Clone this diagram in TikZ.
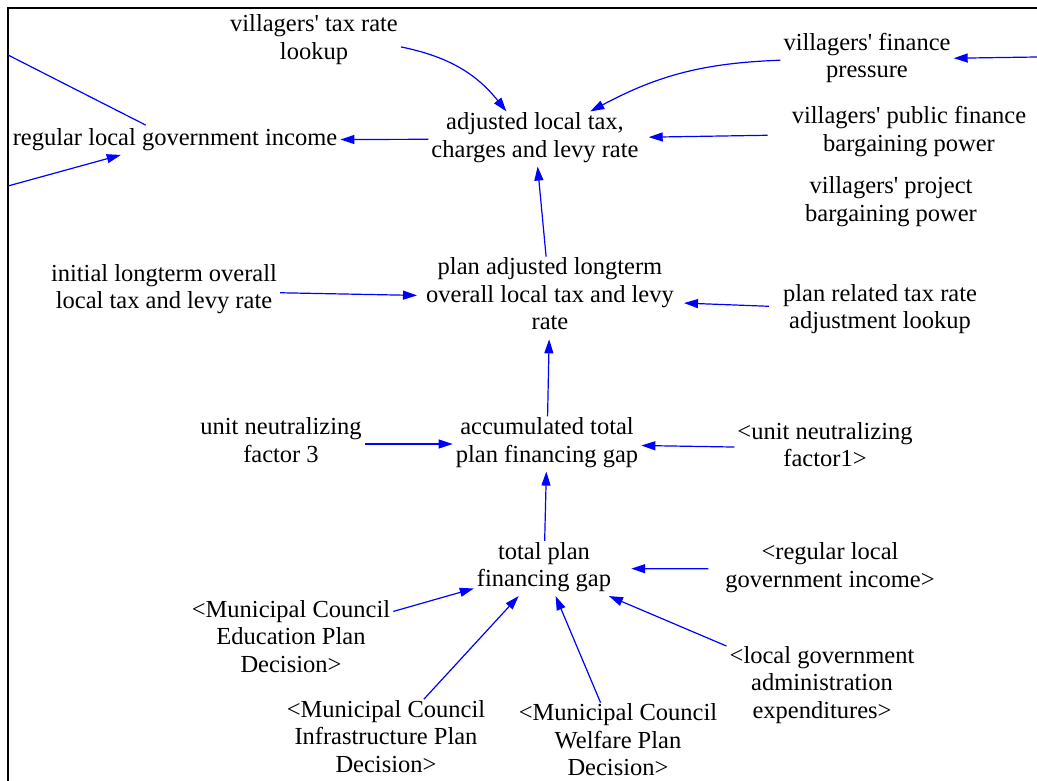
\documentclass[tikz,border=0pt]{standalone}
\usepackage{fontspec}
\setmainfont{Liberation Serif}
\usetikzlibrary{arrows.meta}
\begin{document}
\begin{tikzpicture}[x=1pt,y=-1pt,
  var/.style={align=center, inner xsep=3pt, inner ysep=1pt,
    font=\fontsize{24.5}{27.5}\selectfont,
    execute at begin node=\strut, execute at end node=\strut},
  wire/.style={draw=blue, line width=1.2pt},
  link/.style={wire, -{Triangle[length=14pt,width=9pt]}},
  frame/.style={draw=black, line width=2.2pt}]
\useasboundingbox (0,0) rectangle (1037,781);
\fill[white] (0,0) rectangle (1037,781);
\draw[frame] (8,781) -- (8,8) -- (1037,8);

% variables
\node[var] (taxlookup) at (314,41) {villagers\textquotesingle{} tax rate\\lookup};
\node[var] (regular) at (175,140) {regular local government income};
\node[var] (adjusted) at (535,139) {adjusted local tax,\\charges and levy rate};
\node[var] (pressure) at (867,59.5) {villagers\textquotesingle{} finance\\pressure};
\node[var] (publicfin) at (909,133) {villagers\textquotesingle{} public finance\\bargaining power};
\node[var] (project) at (891,203) {villagers\textquotesingle{} project\\bargaining power};
\node[var] (planadj) at (550,298) {plan adjusted longterm\\overall local tax and levy\\rate};
\node[var] (initial) at (164,290.5) {initial longterm overall\\local tax and levy rate};
\node[var] (planrel) at (880,310.5) {plan related tax rate\\adjustment lookup};
\node[var] (accum) at (547,444) {accumulated total\\plan financing gap};
\node[var] (factor3) at (281,444) {unit neutralizing\\factor 3};
\node[var] (factor1) at (825,448.5) {<unit neutralizing\\factor1>};
\node[var] (total) at (544,568.5) {total plan\\financing gap};
\node[var] (regshadow) at (830,569) {<regular local\\government income>};
\node[var] (edu) at (291,640.5) {<Municipal Council\\Education Plan\\Decision>};
\node[var] (infra) at (386,740.5) {<Municipal Council\\Infrastructure Plan\\Decision>};
\node[var] (welfare) at (618,744) {<Municipal Council\\Welfare Plan\\Decision>};
\node[var] (admin) at (822,686.5) {<local government\\administration\\expenditures>};

% loose ends of links leaving the view
\coordinate (leftout) at (8,55);
\coordinate (leftin) at (8,186);
\coordinate (rightin) at (1037,57);

% links
\draw[wire] (regular) -- (leftout);
\draw[link] (leftin) -- (regular);
\draw[link] (adjusted) -- (regular);
\draw[link] (rightin) -- (pressure);
\draw[link] (taxlookup) to[bend left=20] (adjusted);
\draw[link] (pressure) to[bend right=13] (adjusted);
\draw[link, shorten <=21pt, shorten >=7pt] (publicfin) -- (adjusted);
\draw[link] (planadj) -- (adjusted);
\draw[link, shorten >=6pt] (initial) -- (planadj);
\draw[link, shorten <=11pt, shorten >=7pt] (planrel) -- (planadj);
\draw[link] (accum) -- (planadj);
\draw[link] (factor3) -- (accum);
\draw[link] (factor1) -- (accum);
\draw[link] (total) -- (accum);
\draw[link, shorten <=14pt, shorten >=17pt] (regshadow) -- (total);
\draw[link] (edu) -- (total);
\draw[link] (infra) -- (total);
\draw[link] (welfare) -- (total);
\draw[link] (admin) -- (total);
\end{tikzpicture}
\end{document}
